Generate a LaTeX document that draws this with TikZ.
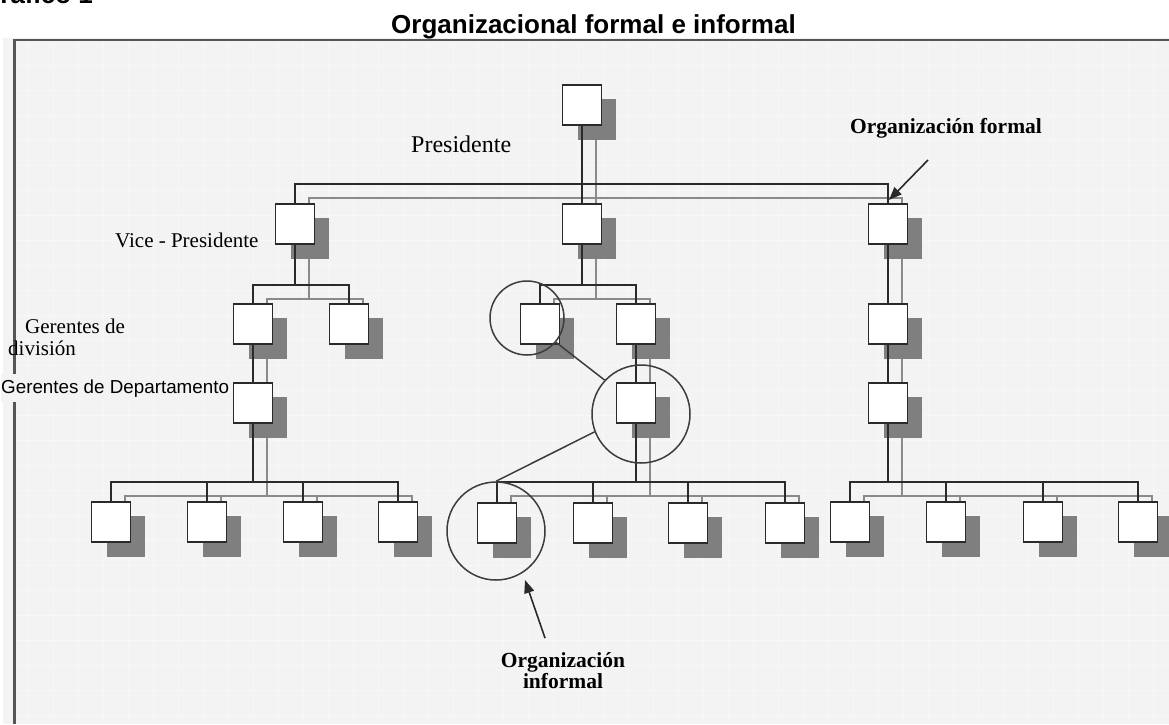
\documentclass[tikz,border=0pt]{standalone}
\usepackage{fontspec}
\setmainfont{Liberation Serif}
\newfontfamily\arialfont{Liberation Sans}
\usetikzlibrary{calc,arrows.meta}
\definecolor{bgc}{HTML}{F3F3F3}
\definecolor{gridc}{HTML}{F7F7F7}
\definecolor{framec}{HTML}{555555}
\definecolor{darkc}{HTML}{2A2A2A}
\definecolor{lightc}{HTML}{8A8A8A}
\definecolor{shadc}{HTML}{7F7F7F}
\definecolor{circc}{HTML}{3C3C3C}
\pgfdeclarelayer{back}
\pgfdeclarelayer{shl}
\pgfdeclarelayer{shb}
\pgfdeclarelayer{dkl}
\pgfsetlayers{back,shl,shb,dkl,main}
\tikzset{
  orgbox/.style={draw=darkc, fill=white, line width=1.8, minimum width=39, minimum height=40, inner sep=0},
  darkline/.style={draw=darkc, line width=2.2},
  lightline/.style={draw=lightc, line width=1.5, transform canvas={xshift=14pt,yshift=-14pt}},
  ring/.style={circle, draw=circc, line width=1.5, inner sep=0},
  lbl/.style={inner sep=0, font=\fontsize{21}{24}\selectfont},
  blbl/.style={inner sep=0, font=\bfseries\fontsize{21.5}{23}\selectfont, align=center},
  arr/.style={draw=darkc, line width=1.6, -{Triangle[length=13,width=10]}}
}
\newcommand\orgnetwork[1]{%
  \draw[#1] (P.south) -- (V2.north);
  \draw[#1] (V1.north) -- (V1.north |- yA) -| (V3.north);
  \draw[#1] (V1.south) -- (V1.south |- yB);
  \draw[#1] (L1.north) -- (L1.north |- yB) -| (L2.north);
  \draw[#1] (L1.south) -- (L3.north);
  \draw[#1] (L3.south) -- (L3.south |- yC);
  \draw[#1] (B1.north) -- (B1.north |- yC) -| (B4.north);
  \draw[#1] (B2.north) -- (B2.north |- yC);
  \draw[#1] (B3.north) -- (B3.north |- yC);
  \draw[#1] (V2.south) -- (V2.south |- yB);
  \draw[#1] (M1.north) -- (M1.north |- yB) -| (M2.north);
  \draw[#1] (M2.south) -- (M3.north);
  \draw[#1] (M3.south) -- (M3.south |- yC);
  \draw[#1] (B5.north) -- (B5.north |- yC) -| (B8.north);
  \draw[#1] (B6.north) -- (B6.north |- yC);
  \draw[#1] (B7.north) -- (B7.north |- yC);
  \draw[#1] (V3.south) -- (R1.north);
  \draw[#1] (R1.south) -- (R2.north);
  \draw[#1] (R2.south) -- (R2.south |- yC);
  \draw[#1] (B9.north) -- (B9.north |- yC) -| (B12.north);
  \draw[#1] (B10.north) -- (B10.north |- yC);
  \draw[#1] (B11.north) -- (B11.north |- yC);
}
\begin{document}
\begin{tikzpicture}[x=1pt,y=-1pt]
\useasboundingbox (0,0) rectangle (1169,724);
\begin{pgfonlayer}{back}
  \fill[white] (0,0) rectangle (1169,724);
  \fill[bgc] (3,38) rectangle (1169,724);
  \foreach \gx in {28,53,...,1169} \draw[gridc, line width=1] (\gx,42) -- (\gx,724);
  \foreach \gy in {65,90,...,724} \draw[gridc, line width=1] (17,\gy) -- (1169,\gy);
  \draw[framec, line width=2.6] (14.5,724) -- (14.5,40) -- (1169,40);
\end{pgfonlayer}

% bar levels
\coordinate (yA) at (0,184);
\coordinate (yB) at (0,285);
\coordinate (yC) at (0,482);

% boxes
\node[orgbox] (P)  at (582,105) {};
\node[orgbox] (V1) at (295,224) {};
\node[orgbox] (V2) at (582,224) {};
\node[orgbox] (V3) at (888,224) {};
\node[orgbox] (L1) at (253,324) {};
\node[orgbox] (L2) at (349,324) {};
\node[orgbox] (M1) at (540,324) {};
\node[orgbox] (M2) at (636,324) {};
\node[orgbox] (R1) at (888,324) {};
\node[orgbox] (L3) at (253,403) {};
\node[orgbox] (M3) at (636,403) {};
\node[orgbox] (R2) at (888,403) {};
\node[orgbox] (B1)  at (111,522) {};
\node[orgbox] (B2)  at (207,522) {};
\node[orgbox] (B3)  at (303,522) {};
\node[orgbox] (B4)  at (398,522) {};
\node[orgbox] (B5)  at (497,523) {};
\node[orgbox] (B6)  at (593,523) {};
\node[orgbox] (B7)  at (688,523) {};
\node[orgbox] (B8)  at (785,523) {};
\node[orgbox] (B9)  at (850,522) {};
\node[orgbox] (B10) at (946,522) {};
\node[orgbox] (B11) at (1043,522) {};
\node[orgbox] (B12) at (1138,522) {};

\begin{pgfonlayer}{shb}
  \foreach \n in {P,V1,V2,V3,L1,L2,M1,M2,R1,L3,M3,R2,B1,B2,B3,B4,B5,B6,B7,B8,B9,B10,B11,B12}
    \fill[shadc] ($(\n.north west)+(16,15)$) rectangle ($(\n.south east)+(14,14)$);
\end{pgfonlayer}
\begin{pgfonlayer}{shl}
  \orgnetwork{lightline}
\end{pgfonlayer}
\begin{pgfonlayer}{dkl}
  \orgnetwork{darkline}
\end{pgfonlayer}

% informal circles
\node[ring, minimum size=74] (C1) at (527,318) {};
\node[ring, minimum size=98] (C2) at (641,414) {};
\node[ring, minimum size=98] (C3) at (496,531) {};
\draw[draw=circc, line width=1.5] (C1.-40) -- (C2.137);
\draw[draw=circc, line width=1.5] (C2.201) -- (C3.90);

% texts
\node[anchor=base, inner sep=0, font=\arialfont\bfseries\fontsize{26}{30}\selectfont] (title) at (593.5,33) {Organizacional formal e informal};
\node[anchor=base west, inner sep=0, font=\arialfont\bfseries\fontsize{26}{30}\selectfont] (graf) at (-20,3) {Gráfico 1};
\node[lbl, anchor=base west, font=\fontsize{24}{26}\selectfont] (tpres) at (411,152) {Presidente};
\node[lbl, anchor=base west] (tvice) at (115,247) {Vice - Presidente};
\node[lbl, anchor=base west] (tgd1) at (25,333) {Gerentes de};
\node[lbl, anchor=base west] (tgd2) at (8,355) {división};
\node[anchor=base west, inner xsep=0, inner ysep=5, fill=bgc, font=\arialfont\fontsize{18.8}{22}\selectfont] (tdep) at (1,393) {Gerentes de Departamento};
\node[blbl, anchor=base west] (tformal) at (850,133) {Organización formal};
\node[blbl, anchor=base] (tinf1) at (563,667) {Organización};
\node[blbl, anchor=base] (tinf2) at (563,688) {informal};

% arrows
\coordinate (fTail) at (928,160);
\coordinate (fTip) at (889,200);
\draw[arr] (fTail) -- (fTip);
\coordinate (iTail) at (545,638);
\coordinate (iTip) at (525,580);
\draw[arr] (iTail) -- (iTip);
\end{tikzpicture}
\end{document}
